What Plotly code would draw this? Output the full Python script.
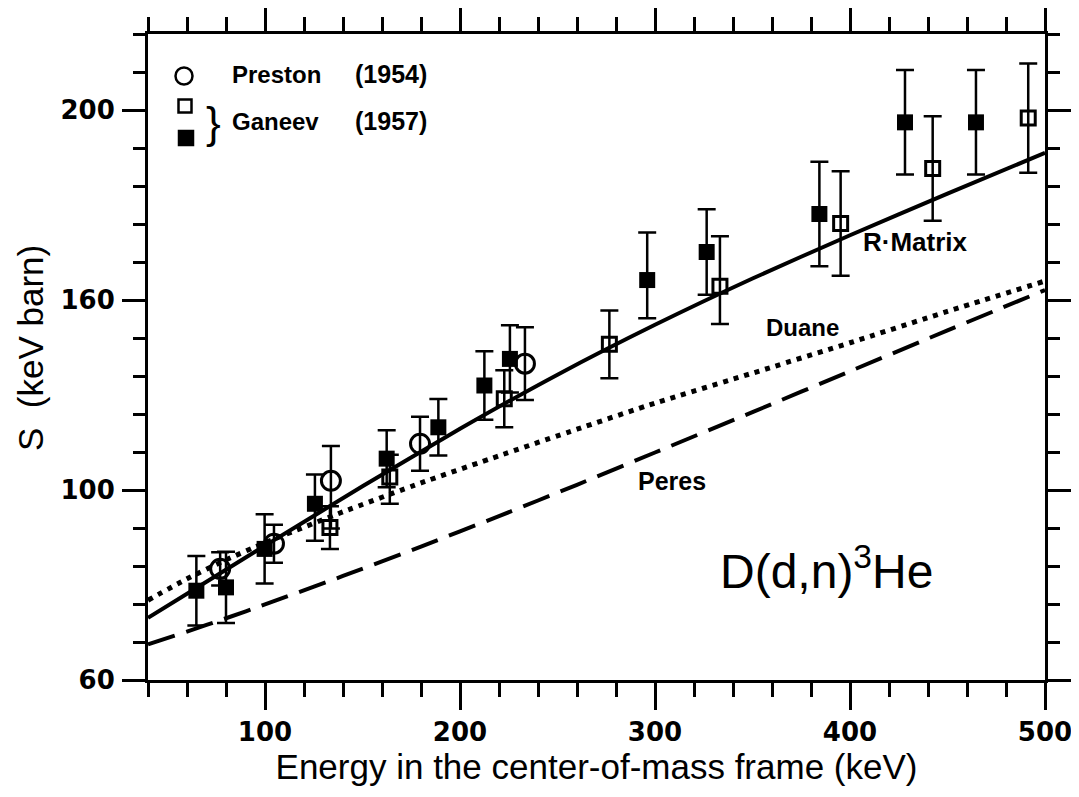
import numpy as np
import plotly.graph_objects as go

# ---------------- data (S in keV barn, as read against the printed tick labels) ----------
# The printed y axis is piecewise: labels 60,100,160,200 are equally spaced on the page.
y_label_breaks = [60, 100, 160, 240]
y_axis_breaks = [60, 100, 140, 220]
y_tick_labels = [60, 100, 160, 200]

x_tick_labels = [100, 200, 300, 400, 500]

preston_E = [77, 104.6, 133.8, 179.5, 233.3]
preston_S = [83.4, 88.7, 102.9, 114.6, 139.9]
preston_err = [3.5, 4.0, 11.0, 8.5, 11.5]

ganeev_open_E = [133.3, 164.0, 222.7, 276.6, 333.3, 395.2, 442.4, 491.4]
ganeev_open_S = [92.1, 104.1, 128.8, 146.0, 162.9, 176.1, 187.7, 198.3]
ganeev_open_err = [4.5, 7.0, 9.0, 10.7, 10.5, 11.0, 11.0, 11.5]

ganeev_filled_E = [64.8, 80.0, 99.8, 125.6, 162.4, 188.9, 212.5, 225.6, 296.0, 326.5, 384.3, 428.2, 464.6]
ganeev_filled_S = [78.8, 79.5, 87.6, 97.1, 109.9, 119.8, 133.0, 141.4, 164.2, 170.1, 178.1, 197.4, 197.4]
ganeev_filled_err = [7.3, 7.5, 7.3, 7.8, 9.0, 8.9, 10.8, 10.6, 10.0, 9.0, 11.0, 11.0, 11.0]

rmatrix_E = [40, 70, 100, 150, 200, 250, 300, 350, 400, 450, 500]
rmatrix_S = [73.1, 80.69, 88.28, 101.17, 119.32, 136.42, 152.17, 164.53, 173.63, 182.38, 190.98]

duane_E = [40, 60, 80, 100, 140, 180, 220, 260, 300, 350, 400, 450, 500]
duane_S = [76.8, 81.3, 85.3, 88.9, 95.4, 102.25, 110.8, 119.2, 127.45, 136.9, 146.5, 156.4, 164.0]

peres_E = [40, 60, 80, 100, 140, 180, 220, 260, 300, 350, 400, 450, 500]
peres_S = [67.5, 70.2, 73.0, 75.9, 81.9, 88.1, 94.5, 101.65, 111.85, 124.6, 137.5, 150.4, 162.1]


def to_axis(v):
    return np.interp(np.asarray(v, dtype=float), y_label_breaks, y_axis_breaks)


def err_bars(S, e):
    S = np.asarray(S, float)
    e = np.asarray(e, float)
    y = to_axis(S)
    up = to_axis(S + e) - y
    dn = y - to_axis(S - e)
    return y, up, dn


# ---------------- figure ----------------
# page has an 8px body margin; figure sized so that page == 1079x797
W, H = 1063, 781
L, T = 140, 26
PW, PH = 897, 646
R, B = W - L - PW, H - T - PH
OFF = 8  # body margin


def pxx(x):  # page pixel -> paper
    return (x - OFF - L) / PW


def pxy(y):
    return (T + PH - (y - OFF)) / PH


fig = go.Figure()

fig.add_trace(go.Scatter(x=peres_E, y=to_axis(peres_S), mode="lines",
                         line=dict(color="black", width=4, dash="28px,12px", shape="spline", smoothing=0.5),
                         showlegend=False, hoverinfo="skip"))
fig.add_trace(go.Scatter(x=duane_E, y=to_axis(duane_S), mode="lines",
                         line=dict(color="black", width=5, dash="5px,6px", shape="spline", smoothing=0.5),
                         showlegend=False, hoverinfo="skip"))
fig.add_trace(go.Scatter(x=rmatrix_E, y=to_axis(rmatrix_S), mode="lines",
                         line=dict(color="black", width=4, shape="spline", smoothing=0.6),
                         showlegend=False, hoverinfo="skip"))

eb = dict(type="data", symmetric=False, color="black", thickness=2.5, width=9)

y, up, dn = err_bars(ganeev_filled_S, ganeev_filled_err)
fig.add_trace(go.Scatter(x=ganeev_filled_E, y=y, mode="markers",
                         marker=dict(symbol="square", size=16, color="black"),
                         error_y=dict(eb, array=up, arrayminus=dn), showlegend=False))

y, up, dn = err_bars(ganeev_open_S, ganeev_open_err)
fig.add_trace(go.Scatter(x=ganeev_open_E, y=y, mode="markers",
                         marker=dict(symbol="square-open", size=14, color="black", line=dict(width=3, color="black")),
                         error_y=dict(eb, array=up, arrayminus=dn), showlegend=False))

y, up, dn = err_bars(preston_S, preston_err)
fig.add_trace(go.Scatter(x=preston_E, y=y, mode="markers",
                         marker=dict(symbol="circle-open", size=19, color="black", line=dict(width=3, color="black")),
                         error_y=dict(eb, array=up, arrayminus=dn), showlegend=False))

tickfont = dict(family="DejaVu Sans", size=26, color="black", weight="bold")
titlefont = dict(family="Liberation Sans, Arial", size=35, color="black")

fig.update_xaxes(range=[40, 500], tickvals=x_tick_labels, ticktext=[str(v) for v in x_tick_labels],
                 ticks="outside", ticklen=27, tickwidth=3, tickcolor="black",
                 showline=True, linewidth=3, linecolor="black", mirror="allticks",
                 showgrid=False, zeroline=False, tickfont=tickfont, ticklabelstandoff=0,
                 ticklabeloverflow="allow",
                 minor=dict(ticks="outside", ticklen=14, tickwidth=3, tickcolor="black",
                            tickmode="linear", tick0=40, dtick=20, showgrid=False),
                 title=dict(text="Energy in the center-of-mass frame (keV)", font=titlefont, standoff=4))

fig.update_yaxes(range=[60, 196], tickvals=list(to_axis(y_tick_labels)), ticktext=[str(v) for v in y_tick_labels],
                 ticks="outside", ticklen=23, tickwidth=3, tickcolor="black",
                 showline=True, linewidth=3, linecolor="black", mirror="allticks",
                 showgrid=False, zeroline=False, tickfont=tickfont, ticklabelstandoff=2,
                 ticklabeloverflow="allow",
                 minor=dict(ticks="outside", ticklen=12, tickwidth=3, tickcolor="black",
                            tickmode="linear", tick0=60, dtick=8, showgrid=False))

txt = dict(family="Liberation Sans, Arial", color="black")
ann = []


def add_text(t, x, y, size, xanchor="center", yanchor="middle", bold=True, angle=0):
    f = dict(txt, size=size)
    if bold:
        f["weight"] = "bold"
    ann.append(dict(text=t, x=pxx(x), y=pxy(y), xref="paper", yref="paper", showarrow=False,
                    xanchor=xanchor, yanchor=yanchor, font=f, textangle=angle))


add_text("S\u00a0\u00a0(keV barn)", 31, 348, 35, bold=False, angle=-90)
add_text("R·Matrix", 915, 242, 26)
add_text("Duane", 802, 327, 24)
add_text("Peres", 672, 481, 25)
add_text("D(d,n)<sup>3</sup>He", 826, 568, 48, bold=False)
add_text("Preston", 230, 74, 24, xanchor="left")
add_text("(1954)", 353, 74, 25, xanchor="left")
add_text("Ganeev", 230, 121, 24, xanchor="left")
add_text("(1957)", 353, 121, 25, xanchor="left")
add_text("}", 213, 122, 44, bold=False)

shapes = []


def legend_shape(kind, x, y, half, fill):
    shapes.append(dict(type=kind, xref="paper", yref="paper", xsizemode="pixel", ysizemode="pixel",
                       xanchor=pxx(x), yanchor=pxy(y), x0=-half, x1=half, y0=-half, y1=half,
                       line=dict(color="black", width=2.5), fillcolor=fill))


legend_shape("circle", 184, 76, 8.5, "rgba(0,0,0,0)")
legend_shape("rect", 185, 106, 6.5, "rgba(0,0,0,0)")
legend_shape("rect", 186, 138, 7, "black")

fig.update_layout(width=W, height=H, margin=dict(l=L, r=R, t=T, b=B, autoexpand=False),
                  plot_bgcolor="white", paper_bgcolor="white",
                  annotations=ann, shapes=shapes, showlegend=False)

fig.write_html("out.html")
